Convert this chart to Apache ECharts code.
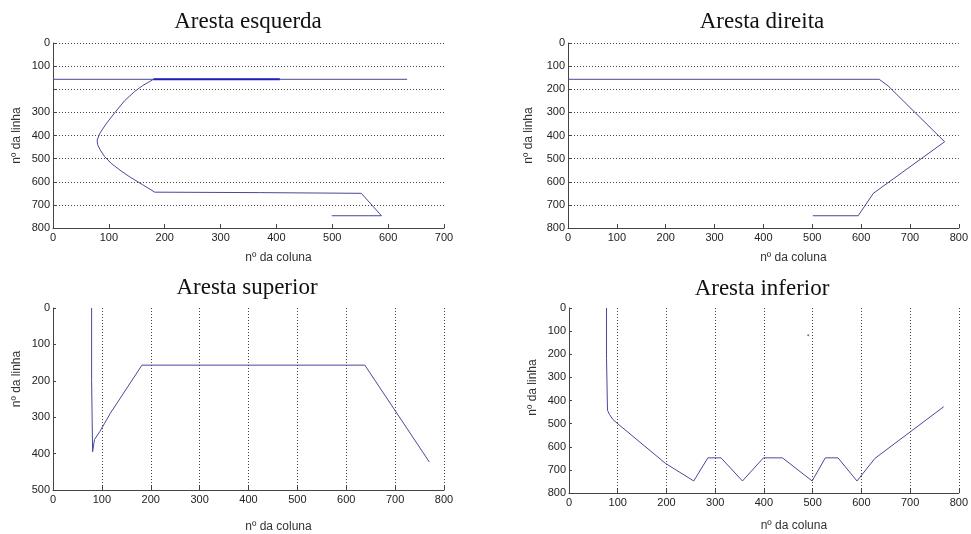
<!DOCTYPE html>
<html>
<head>
<meta charset="utf-8">
<script src="https://cdn.jsdelivr.net/npm/echarts@6/dist/echarts.min.js"></script>
<style>
  html, body { margin: 0; padding: 0; background: #fff; }
  #chart { width: 971px; height: 534px; }
</style>
</head>
<body>
<div id="chart"></div>
<script>
// Edge traces: each point is [column, row]
const titles = ['Aresta esquerda', 'Aresta direita', 'Aresta superior', 'Aresta inferior'];
const xName = 'nº da coluna';
const yName = 'nº da linha';

// Left edge
const leftTop = [[0, 157], [634, 157]];
const leftTopOverlap = [[180, 157], [406, 157]];
const leftCurve = [
  [180, 157], [160, 185], [146, 210], [128, 250], [111, 300], [95, 350], [84, 390],
  [79, 420], [80, 440], [84, 460], [92, 490], [104, 520], [120, 550], [138, 580],
  [160, 612], [182, 645], [370, 647], [372, 650], [552, 650], [588, 747], [499, 747]
];

// Right edge
const rightEdge = [[0, 157], [637, 157], [655, 185], [771, 427], [625, 650], [594, 747], [501, 747]];

// Top edge
const topEdge = [
  [79, 0], [79, 200], [81, 200], [81, 395], [85, 361], [96, 339], [105, 318],
  [117, 290], [182, 157], [638, 157], [770, 423]
];

// Bottom edge
const bottomEdge = [
  [77, 0], [77, 218], [79, 218], [79, 442], [83, 460], [90, 482], [101, 502],
  [198, 672], [256, 748], [285, 648], [312, 648], [356, 748], [399, 648],
  [438, 648], [499, 748], [526, 648], [552, 648], [591, 748], [628, 650], [769, 427]
];
const bottomStray = [[491, 118]];

// Axis ranges / tick steps
const xMax = [700, 800, 800, 800];
const yMax = [800, 800, 500, 800];
const tickStep = 100;
const hiddenYLabels = [[200], [], [], []];

const lineColor = '#48489a';
const axisColor = '#444';
const labelFont = { fontFamily: 'Liberation Sans', fontSize: 11, color: '#222' };

const grids = [
  { left: 53, top: 43, width: 391, height: 185, show: false },
  { left: 568, top: 43, width: 393, height: 185, show: false },
  { left: 53, top: 308, width: 391, height: 185, show: false },
  { left: 569, top: 308, width: 392, height: 185, show: false }
];

// horizontal dotted grid on the top row, vertical on the bottom row
const horizGrid = [true, true, false, false];

const dotted = { show: true, lineStyle: { type: [1, 2], color: '#444', width: 1 } };

const xNameGap = [24, 24, 31, 27];
const yNameGap = [30, 33, 30, 30];
const yNameShift = [0, 0, 40, 26];

const xAxes = grids.map((g, i) => ({
  gridIndex: i,
  type: 'value',
  position: 'bottom',
  min: 0,
  max: xMax[i],
  interval: tickStep,
  name: xName,
  nameLocation: 'middle',
  nameGap: xNameGap[i],
  nameTextStyle: { fontFamily: 'Liberation Sans', fontSize: 12, color: '#333', padding: [0, 0, 0, 60] },
  axisLine: { show: true, onZero: false, lineStyle: { color: axisColor, width: 1 } },
  axisTick: { show: true, inside: true, length: 4, lineStyle: { color: axisColor } },
  axisLabel: Object.assign({ margin: 4 }, labelFont),
  splitLine: horizGrid[i] ? { show: false } : dotted
}));

const yAxes = grids.map((g, i) => ({
  gridIndex: i,
  type: 'value',
  position: 'left',
  inverse: true,
  min: 0,
  max: yMax[i],
  interval: tickStep,
  name: yName,
  nameLocation: 'middle',
  nameGap: yNameGap[i],
  nameRotate: 90,
  nameTextStyle: { fontFamily: 'Liberation Sans', fontSize: 12, color: '#333',
    padding: [0, 0, 0, yNameShift[i]] },
  axisLine: { show: true, onZero: false, lineStyle: { color: axisColor, width: 1 } },
  axisTick: { show: true, inside: true, length: 3, lineStyle: { color: axisColor } },
  axisLabel: Object.assign({
    margin: 3,
    formatter: v => hiddenYLabels[i].includes(v) ? '' : String(v)
  }, labelFont),
  splitLine: horizGrid[i] ? dotted : { show: false }
}));

function line(data, idx, extra) {
  return Object.assign({
    type: 'line',
    xAxisIndex: idx,
    yAxisIndex: idx,
    data: data,
    symbol: 'none',
    lineStyle: { color: lineColor, width: 1 },
    z: 3
  }, extra || {});
}

const titleCenters = [
  { x: 248, y: 10 }, { x: 762, y: 10 }, { x: 247, y: 276 }, { x: 762, y: 277 }
];

const option = {
  animation: false,
  backgroundColor: '#fff',
  title: titles.map((t, i) => ({
    text: t,
    left: titleCenters[i].x,
    top: titleCenters[i].y,
    textAlign: 'center',
    padding: 0,
    textStyle: { fontFamily: 'Liberation Serif', fontSize: 23, fontWeight: 'normal', color: '#111' }
  })),
  grid: grids,
  xAxis: xAxes,
  yAxis: yAxes,
  series: [
    line(leftTop, 0),
    line(leftCurve, 0),
    line(leftTopOverlap, 0, { lineStyle: { color: '#1f1fc0', width: 2 }, z: 4 }),
    line(rightEdge, 1),
    line(topEdge, 2),
    line(bottomEdge, 3),
    {
      type: 'scatter',
      xAxisIndex: 3,
      yAxisIndex: 3,
      data: bottomStray,
      symbolSize: 2,
      itemStyle: { color: lineColor }
    }
  ]
};

echarts.init(document.getElementById('chart'), null, { renderer: 'canvas' }).setOption(option);
</script>
</body>
</html>
